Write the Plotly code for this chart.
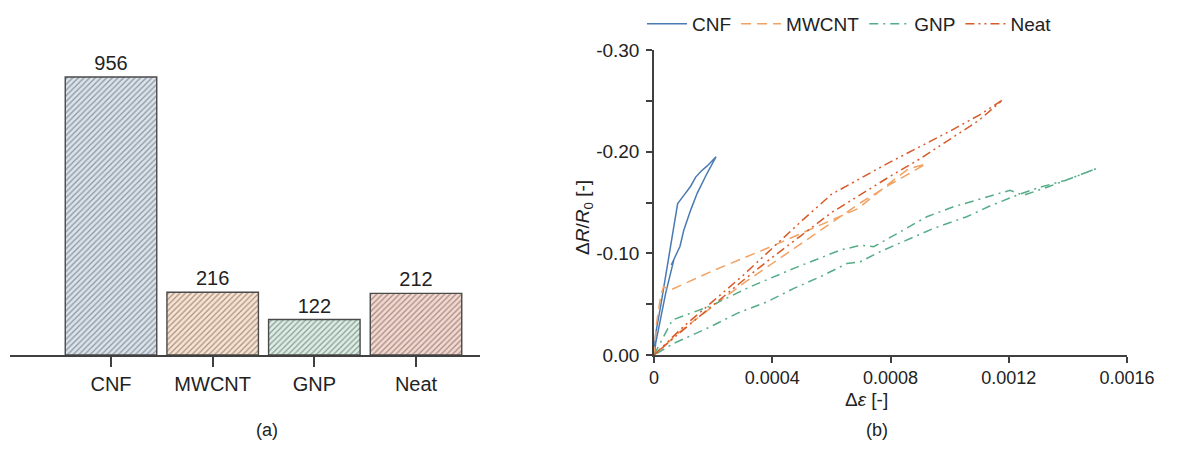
import plotly.graph_objects as go

W, H = 1202, 469

# ---- Data: (a) bar chart ----
categories = ["CNF", "MWCNT", "GNP", "Neat"]
bar_values = [956, 216, 122, 212]

# ---- Data: (b) resistance change vs strain (loading + unloading loops) ----
cnf_x = [0, 5.6e-6, 2.25e-5, 4.5e-5, 6.2e-5, 8.0e-5, 1.01e-4, 1.24e-4, 1.41e-4, 1.6e-4, 1.8e-4, 2.1e-4,
         1.8e-4, 1.46e-4, 1.24e-4, 1.01e-4, 8.8e-5, 5.85e-5, 6.75e-5, 3.94e-5, 1.69e-5, 5.6e-6, 2.3e-6]
cnf_y = [0, -0.021, -0.048, -0.087, -0.12, -0.149, -0.157, -0.166, -0.175, -0.181, -0.186, -0.195,
         -0.179, -0.159, -0.1425, -0.123, -0.107, -0.0885, -0.094, -0.0606, -0.0278, -0.0115, -0.0017]

mwcnt_x = [0, 1e-4, 2e-4, 3e-4, 4e-4, 5e-4, 6e-4, 7e-4, 8e-4, 9.2e-4,
           8.6e-4, 8.1e-4, 6.9e-4, 5.5e-4, 3.83e-4, 2.0e-4, 5.6e-5, 3.2e-5, 2.2e-5, 8e-6, 0]
mwcnt_y = [0, -0.026, -0.048, -0.07, -0.09, -0.11, -0.13, -0.15, -0.168, -0.188,
           -0.183, -0.172, -0.144, -0.126, -0.105, -0.083, -0.064, -0.067, -0.057, -0.03, 0]

gnp_x = [0, 6.2e-5, 1.91e-4, 3.26e-4, 4.73e-4, 6.3e-4, 7.0e-4, 7.43e-4, 8.33e-4, 9.23e-4, 1.013e-3, 1.114e-3,
         1.204e-3, 1.249e-3, 1.339e-3, 1.44e-3, 1.497e-3,
         1.395e-3, 1.305e-3, 1.226e-3, 1.136e-3, 1.058e-3, 9.45e-4, 8.55e-4, 7.65e-4, 6.98e-4, 6.53e-4,
         5.63e-4, 4.73e-4, 3.83e-4, 2.81e-4, 1.91e-4, 6.75e-5, 0]
gnp_y = [0, -0.0344, -0.0482, -0.0672, -0.0852, -0.1032, -0.108, -0.1065, -0.1212, -0.136, -0.1458, -0.154,
         -0.162, -0.157, -0.166, -0.177, -0.1835,
         -0.172, -0.165, -0.157, -0.1465, -0.136, -0.1245, -0.113, -0.1016, -0.0917, -0.090,
         -0.077, -0.0655, -0.0524, -0.041, -0.0278, -0.0115, 0]

neat_x = [0, 1e-4, 2e-4, 3e-4, 4e-4, 5e-4, 6e-4, 7e-4, 8e-4, 9e-4, 1.0e-3, 1.1e-3, 1.18e-3,
          1.1e-3, 1.0e-3, 9e-4, 8e-4, 7e-4, 6e-4, 5e-4, 4e-4, 3e-4, 2e-4, 1e-4, 0]
neat_y = [0, -0.028, -0.053, -0.078, -0.105, -0.132, -0.158, -0.174, -0.19, -0.205, -0.22, -0.236, -0.251,
          -0.231, -0.212, -0.193, -0.176, -0.158, -0.140, -0.118, -0.096, -0.073, -0.049, -0.025, 0]

y_major_vals = [0, -0.10, -0.20, -0.30]
y_major_text = ["0.00", "-0.10", "-0.20", "-0.30"]
x_tick_vals = [0, 0.0004, 0.0008, 0.0012, 0.0016]
x_tick_text = ["0", "0.0004", "0.0008", "0.0012", "0.0016"]

# ---- styling ----
FONT = "Arial, Liberation Sans, sans-serif"
AX = "#404040"
TXT = "#222222"
bar_fill = ["#d9e3ee", "#fbe2ce", "#d9efe4", "#f6d7cd"]
bar_hatch = ["#b4c6da", "#f1c8a6", "#b4dcc7", "#e7b4a6"]

line_colors = {"CNF": "#4a7ab4", "MWCNT": "#f2a263", "GNP": "#55ad88", "Neat": "#d85a2a"}
line_dash = {"CNF": "solid", "MWCNT": "10px,6px", "GNP": "9px,5px,2px,5px", "Neat": "9px,4px,2px,4px,2px,4px"}


def px_x(p):
    return p / W


def px_y(p):
    return 1 - p / H


fig = go.Figure()

fig.add_trace(go.Bar(
    x=categories, y=bar_values, text=[str(v) for v in bar_values],
    textposition="outside", cliponaxis=False,
    textfont=dict(size=20, color=TXT, family=FONT),
    width=0.9,
    marker=dict(color=bar_fill, line=dict(color="#4a4a4a", width=1.4),
                pattern=dict(shape="/", fgcolor=bar_hatch, bgcolor=bar_fill, size=4, solidity=0.3)),
    showlegend=False, xaxis="x", yaxis="y",
))

series = [("CNF", cnf_x, cnf_y), ("MWCNT", mwcnt_x, mwcnt_y), ("GNP", gnp_x, gnp_y), ("Neat", neat_x, neat_y)]
for name, xs, ys in series:
    fig.add_trace(go.Scatter(
        x=xs, y=ys, mode="lines", name=name,
        line=dict(color=line_colors[name], width=1.5, dash=line_dash[name]),
        xaxis="x2", yaxis="y2",
    ))

# bar axis geometry: category centres at px 111 .. 416
spacing = (416 - 111) / 3
left_px, right_px = 10, 480
xr0 = (left_px - 111) / spacing
xr1 = (right_px - 111) / spacing
base_px, top_px = 355, 50
scale = (355 - 77) / 956.0
ytop = (base_px - top_px) / scale

fig.update_layout(
    width=W, height=H,
    margin=dict(l=0, r=0, t=0, b=0, autoexpand=False),
    paper_bgcolor="white", plot_bgcolor="white",
    font=dict(family=FONT, size=19, color=TXT),
    xaxis=dict(domain=[px_x(left_px), px_x(right_px)], range=[xr0, xr1], type="category",
               automargin=False,
               showline=True, linecolor=AX, linewidth=1.5, ticks="outside", ticklen=10,
               tickcolor=AX, tickwidth=1.5, showgrid=False, zeroline=False,
               tickfont=dict(size=20, family=FONT, color=TXT)),
    yaxis=dict(domain=[px_y(base_px), px_y(top_px)], range=[0, ytop], visible=False,
               automargin=False, showgrid=False, zeroline=False),
    xaxis2=dict(domain=[px_x(654), px_x(1127)], range=[0, 0.0016], anchor="y2",
                automargin=False,
                tickmode="array", tickvals=x_tick_vals, ticktext=x_tick_text,
                showline=True, linecolor=AX, linewidth=1.5, ticks="outside", ticklen=6,
                tickcolor=AX, tickwidth=1.5, showgrid=False, zeroline=False,
                tickfont=dict(size=18, family=FONT, color=TXT)),
    yaxis2=dict(domain=[px_y(355), px_y(50)], range=[0, -0.30], anchor="x2",
                automargin=False,
                tickmode="array", tickvals=y_major_vals, ticktext=y_major_text,
                minor=dict(tickmode="linear", tick0=0, dtick=0.05, ticks="outside", ticklen=6,
                           tickcolor=AX, tickwidth=1.5, showgrid=False),
                showline=True, linecolor=AX, linewidth=1.5, ticks="outside", ticklen=6,
                tickcolor=AX, tickwidth=1.5, showgrid=False, zeroline=False,
                ticklabelstandoff=3,
                tickfont=dict(size=19, family=FONT, color=TXT)),
    legend=dict(orientation="h", x=px_x(642), xanchor="left", y=px_y(5), yanchor="top",
                font=dict(size=19, family=FONT, color=TXT), bgcolor="rgba(0,0,0,0)",
                itemwidth=40, tracegroupgap=0),
    annotations=[
        dict(text="Δ<i>R</i>/<i>R</i><sub>0</sub> [-]", x=px_x(584), y=px_y(218), xref="paper", yref="paper",
             textangle=-90, showarrow=False, font=dict(size=19, family=FONT, color=TXT)),
        dict(text="Δ<i>ε</i> [-]", x=px_x(890), y=px_y(412), xref="paper", yref="paper",
             showarrow=False, font=dict(size=19, family=FONT, color=TXT)),
        dict(text="(a)", x=px_x(254), y=px_y(442), xref="paper", yref="paper",
             showarrow=False, font=dict(size=18, family=FONT, color=TXT)),
        dict(text="(b)", x=px_x(890), y=px_y(442), xref="paper", yref="paper",
             showarrow=False, font=dict(size=18, family=FONT, color=TXT)),
    ],
)

post = (
    "document.documentElement.style.margin='0';"
    "document.documentElement.style.overflow='hidden';"
    "document.body.style.margin='0';"
    "document.body.style.overflow='hidden';"
)
fig.write_html("out.html", config={"displayModeBar": False}, post_script=post)
